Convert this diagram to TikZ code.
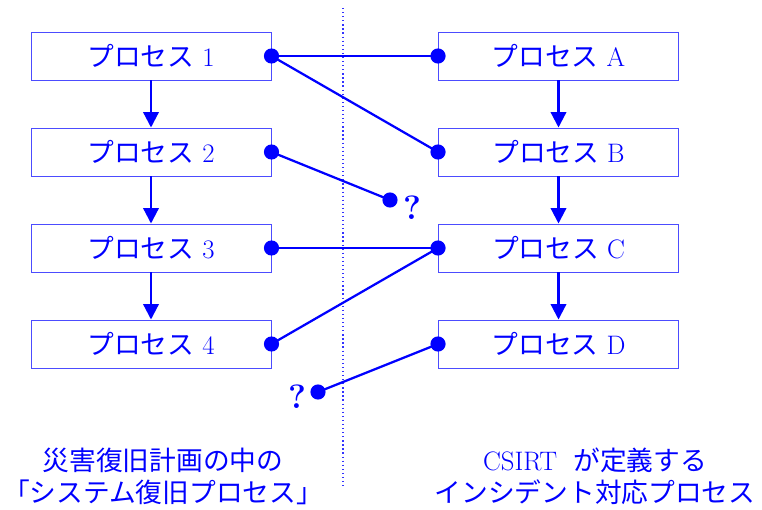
\documentclass[tikz,border=0pt]{standalone}
\usepackage{fontspec}
\newfontfamily\jp{Noto Sans CJK JP}
\usetikzlibrary{arrows.meta,positioning}

\begin{document}
\begin{tikzpicture}[x=0.025cm,y=-0.025cm,
    font=\fontsize{19}{22.7}\selectfont,
    every node/.style={text=blue},
    proc/.style={draw=blue!70,line width=0.7pt,inner sep=0pt,
            minimum width=240*0.025cm,minimum height=48*0.025cm},
    flow/.style={blue,line width=1.6pt,-{Triangle[length=11pt,width=11pt]}},
    link/.style={blue,line width=1.6pt},
    mark node/.style={font=\fontsize{24}{28}\selectfont\bfseries},
    caption/.style={align=center,font=\fontsize{19}{22.7}\selectfont\jp}]
    \useasboundingbox (0,0) rectangle (762,510);
    % the two chains of processes
    \foreach \n [count=\i] in {1,2,3,4}
       \node[proc] (p\n) at (151,{56+96*(\i-1)}) {{\jp プロセス} \n};
    \foreach \n [count=\i] in {A,B,C,D}
       \node[proc] (p\n) at (558.5,{56+96*(\i-1)}) {{\jp プロセス} \n};
    \foreach \a/\b in {1/2,2/3,3/4,A/B,B/C,C/D}
       \draw[flow] (p\a) -- (p\b);
    % divider
    \draw[blue!80,dotted,line width=0.9pt] (343,8) -- (343,487);
    % unmatched ends
    \coordinate (q2) at (390,200);
    \coordinate (qD) at (318,392);
    \node[mark node] (m2) at (412,208) {?};
    \node[mark node] (mD) at (297,397) {?};
    % links between the two sides
    \foreach \a/\b in {p1.east/pA.west,p1.east/pB.west,p2.east/q2,
                       p3.east/pC.west,p4.east/pC.west,pD.west/qD}
       \draw[link] (\a) -- (\b);
    \foreach \p in {p1.east,p2.east,p3.east,p4.east,
                    pA.west,pB.west,pC.west,pD.west,q2,qD}
       \fill[blue] (\p) circle[radius=5.4pt];
    % captions
    \node[caption] (capL) at (163,476) {災害復旧計画の中の\\「システム復旧プロセス」};
    \node[caption] (capR) at (595,476) {{\rmfamily CSIRT}\hspace{0.6em}が定義する\\インシデント対応プロセス};
\end{tikzpicture}
\end{document}
